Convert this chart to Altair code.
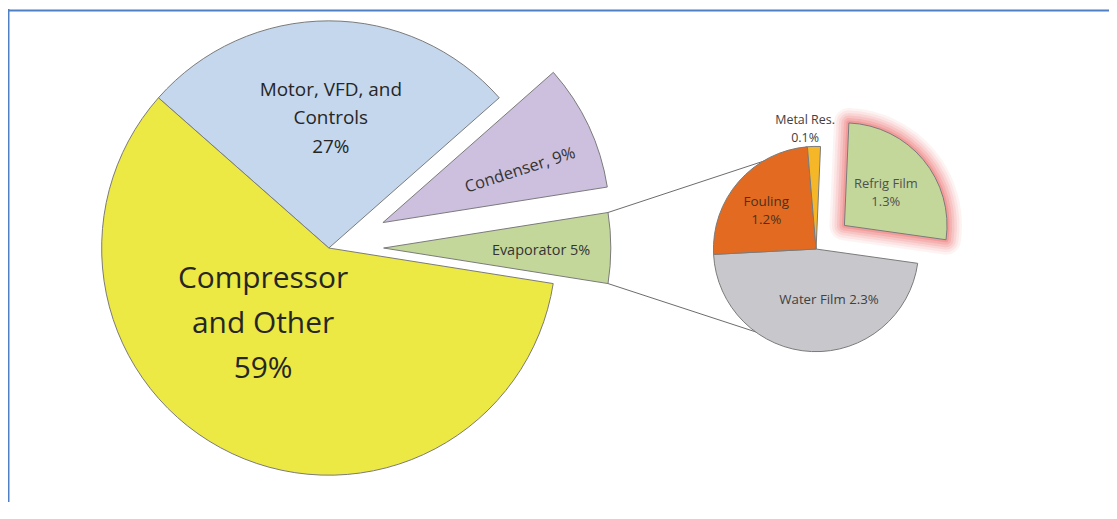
import math
import altair as alt
import pandas as pd

# ---------------- data ----------------
main_categories = ["Motor, VFD, and Controls", "Condenser", "Evaporator", "Compressor and Other"]
main_values = [27, 9, 5, 59]

detail_categories = ["Refrig Film", "Water Film", "Fouling", "Metal Res."]
detail_values = [1.3, 2.3, 1.2, 0.1]

# label wording (text only)
label_templates = {
    "Motor, VFD, and Controls": "Motor, VFD, and\nControls\n{v}%",
    "Condenser": "Condenser, {v}%",
    "Evaporator": "Evaporator {v}%",
    "Compressor and Other": "Compressor\nand Other\n{v}%",
    "Refrig Film": "Refrig Film\n{v}%",
    "Water Film": "Water Film {v}%",
    "Fouling": "Fouling\n{v}%",
    "Metal Res.": "Metal Res.\n{v}%",
}

# ---------------- styles / layout ----------------
COLORS = {
    "Motor, VFD, and Controls": "#c4d7ed",
    "Condenser": "#ccc0de",
    "Evaporator": "#c4d79b",
    "Compressor and Other": "#ece844",
    "Refrig Film": "#c4d79b",
    "Water Film": "#c8c8cc",
    "Fouling": "#e26b21",
    "Metal Res.": "#f5b728",
}
EXPLODE = {"Condenser": 60, "Evaporator": 55, "Refrig Film": 37}

W, H = 1105, 495
MAIN = dict(cx=322, cy=240, r=228, start=-48.6)
DETAIL = dict(cx=811, cy=241, r=103, start=2.5)

# label layout: x, y, size, lineHeight, angle, baseline, color
LABEL_LAYOUT = {
    "Motor, VFD, and Controls": (324, 87, 19, 29, 0, "alphabetic", "#262626"),
    "Compressor and Other": (256, 280, 30, 45, 0, "alphabetic", "#262626"),
    "Condenser": (514, 162, 16.5, 20, 342, "middle", "#333333"),
    "Evaporator": (535, 247, 14.5, 18, 0, "alphabetic", "#333333"),
    "Metal Res.": (800, 116, 12.5, 18, 0, "alphabetic", "#404040"),
    "Fouling": (761, 198, 13.5, 18, 0, "alphabetic", "#4a3020"),
    "Refrig Film": (881, 180, 13, 18, 0, "alphabetic", "#505050"),
    "Water Film": (824, 296, 13.3, 18, 0, "alphabetic", "#404040"),
}
FONT = "Open Sans"


def fmt(v):
    return f"{v:g}"


def pie_base(cats, vals, geo):
    df = pd.DataFrame({
        "cat": cats,
        "value": vals,
        "order": list(range(len(cats))),
        "explode": [EXPLODE.get(c, 0) for c in cats],
        "fill": [COLORS[c] for c in cats],
    })
    start = math.radians(geo["start"])
    return (
        alt.Chart(df)
        .transform_joinaggregate(total="sum(value)")
        .transform_window(cum="sum(value)", sort=[alt.SortField("order")])
        .transform_calculate(t1=f"{start} + 2*PI*datum.cum/datum.total")
        .transform_calculate(t0="datum.t1 - 2*PI*datum.value/datum.total")
        .transform_calculate(mid="(datum.t0 + datum.t1)/2")
        .transform_calculate(px=f"{geo['cx']} + datum.explode*sin(datum.mid)")
        .transform_calculate(py=f"{geo['cy']} - datum.explode*cos(datum.mid)")
    )


def arc_enc(chart, with_fill=True):
    enc = dict(
        theta=alt.Theta("t0:Q", scale=None),
        theta2=alt.Theta2("t1:Q"),
        x=alt.X("px:Q", scale=None, axis=None),
        y=alt.Y("py:Q", scale=None, axis=None),
    )
    if with_fill:
        enc["fill"] = alt.Fill("fill:N", scale=None, legend=None)
    return chart.encode(**enc)


def point_on(geo, cats, vals, cat_name, edge):
    total = sum(vals)
    cum = 0
    for c, v in zip(cats, vals):
        if c == cat_name:
            t0 = geo["start"] + 360 * cum / total
            t1 = geo["start"] + 360 * (cum + v) / total
            break
        cum += v
    mid = math.radians((t0 + t1) / 2)
    ex = EXPLODE.get(cat_name, 0)
    ax = geo["cx"] + ex * math.sin(mid)
    ay = geo["cy"] - ex * math.cos(mid)
    t = math.radians(t0 if edge == 0 else t1)
    return ax + geo["r"] * math.sin(t), ay - geo["r"] * math.cos(t)


layers = []

# frame lines
layers.append(alt.Chart().mark_rule(color="#4f7fc4", strokeWidth=2).encode(
    x=alt.value(0), x2=alt.value(W), y=alt.value(1.7)))
layers.append(alt.Chart().mark_rule(color="#4f7fc4", strokeWidth=2).encode(
    x=alt.value(0.5), y=alt.value(0), y2=alt.value(H)))

# main pie
main_base = pie_base(main_categories, main_values, MAIN)
layers.append(arc_enc(main_base.mark_arc(radius=MAIN["r"], stroke="#7a7a7a", strokeWidth=1)))

# connector lines from evaporator to the detail pie
e_top = point_on(MAIN, main_categories, main_values, "Evaporator", 0)
e_bot = point_on(MAIN, main_categories, main_values, "Evaporator", 1)
a_top = math.radians(355)
d_top = (DETAIL["cx"] + DETAIL["r"] * math.sin(a_top), DETAIL["cy"] - DETAIL["r"] * math.cos(a_top))
d_bot = (DETAIL["cx"], DETAIL["cy"] + DETAIL["r"])
conn = pd.DataFrame({
    "x": [e_top[0], e_bot[0]], "y": [e_top[1], e_bot[1]],
    "x2": [d_top[0], d_bot[0]], "y2": [d_top[1], d_bot[1]],
})
layers.append(alt.Chart(conn).mark_rule(color="#6b6b6b", strokeWidth=1).encode(
    x=alt.X("x:Q", scale=None, axis=None), y=alt.Y("y:Q", scale=None, axis=None),
    x2="x2:Q", y2="y2:Q"))

# detail pie with glow on Refrig Film
detail_base = pie_base(detail_categories, detail_values, DETAIL)
glow_base = detail_base.transform_filter(alt.datum.cat == "Refrig Film")
for sw, op in [(30, 0.07), (25, 0.09), (20, 0.11), (15, 0.14), (10, 0.18), (5, 0.25)]:
    layers.append(arc_enc(glow_base.mark_arc(
        radius=DETAIL["r"], filled=False, stroke="#ec5a5a", strokeWidth=sw,
        strokeOpacity=op, strokeJoin="round"), with_fill=False))
layers.append(arc_enc(detail_base.mark_arc(radius=DETAIL["r"], stroke="#7a7a7a", strokeWidth=1)))

# labels
all_pairs = list(zip(main_categories, main_values)) + list(zip(detail_categories, detail_values))
for cat, val in all_pairs:
    x, y, size, lh, ang, base, col = LABEL_LAYOUT[cat]
    txt = label_templates[cat].format(v=fmt(val))
    mk = dict(x=x, y=y, fontSize=size, lineHeight=lh, align="center", baseline=base,
              font=FONT, color=col, lineBreak="\n")
    if ang:
        mk["angle"] = ang
    layers.append(alt.Chart(pd.DataFrame({"label": [txt]})).mark_text(**mk).encode(text="label:N"))

chart = alt.layer(*layers).properties(
    width=W, height=H, autosize="none", padding=0, background="white"
).configure_view(stroke=None)

chart.save("out.html", embed_options={"renderer": "svg", "actions": False})
